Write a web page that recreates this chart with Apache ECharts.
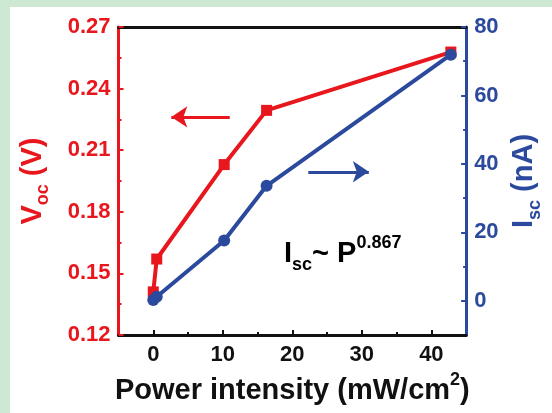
<!DOCTYPE html>
<html>
<head>
<meta charset="utf-8">
<script src="https://cdn.jsdelivr.net/npm/echarts@6/dist/echarts.min.js"></script>
<style>
  html, body { margin: 0; padding: 0; background: #cde8d3; }
  #main { position: absolute; left: 10px; top: 7px; width: 542px; height: 406px; background: #fff; }
</style>
</head>
<body>
<div id="main"></div>
<script>
// power intensity (mW/cm2) of each measurement
var power = [0, 0.5, 10.2, 16.3, 42.8];
// open circuit voltage (V)
var vocValues = [0.141, 0.157, 0.203, 0.2294, 0.2578];
// short circuit current (nA)
var iscValues = [0.2, 1.2, 17.6, 33.6, 71.9];

var xTicks = [0, 10, 20, 30, 40];
var xMinorTicks = [5, 15, 25, 35];
var iscTicks = [0, 20, 40, 60, 80];
var iscMinorTicks = [10, 30, 50, 70];

// arrows pointing to each axis: [from, to]
var vocArrow = [[11.0, 0.2262], [2.6, 0.2262]];
var iscArrow = [[22.3, 37.7], [31.0, 37.7]];

var RED = '#e8161d';
var BLUE = '#2b4a9d';
var FONT = '"Liberation Sans", Arial, sans-serif';

function pairs(xs, ys) {
    return xs.map(function (x, i) { return [x, ys[i]]; });
}

function nameRich(color, size) {
    return {
        a: { fontSize: size, fontWeight: 'bold', fontFamily: FONT, color: color, lineHeight: 40 },
        b: { fontSize: 18, fontWeight: 'bold', fontFamily: FONT, color: color, lineHeight: 18, verticalAlign: 'bottom' },
        s: { fontSize: 18, fontWeight: 'bold', fontFamily: FONT, color: color, lineHeight: 18, verticalAlign: 'top' }
    };
}

var tickFont = { fontSize: 22, fontWeight: 'bold', fontFamily: FONT };

var myChart = echarts.init(document.getElementById('main'));

var option = {
    animation: false,
    backgroundColor: '#fff',
    grid: { left: 103, top: 20, width: 370, height: 308, show: false },
    xAxis: [
        {
            type: 'value', position: 'bottom', min: -5, max: 45,
            name: '{a|Power intensity (mW/cm}{s|2}{a|)}',
            nameLocation: 'middle', nameGap: 26,
            nameTextStyle: { rich: nameRich('#111', 29) },
            axisLine: { show: true, onZero: false, lineStyle: { color: '#111', width: 3 } },
            axisTick: { show: true, inside: true, length: 5, customValues: xTicks, lineStyle: { color: '#111', width: 2 } },
            axisLabel: Object.assign({ customValues: xTicks, margin: 9, color: '#111' }, tickFont),
            splitLine: { show: false }
        },
        {
            type: 'value', position: 'bottom', min: -5, max: 45,
            axisLine: { show: false, onZero: false },
            axisTick: { show: true, inside: true, length: 3, customValues: xMinorTicks, lineStyle: { color: '#111', width: 2 } },
            axisLabel: { show: false },
            splitLine: { show: false }
        },
        {
            type: 'value', position: 'top', min: -5, max: 45,
            axisLine: { show: true, onZero: false, lineStyle: { color: '#111', width: 3 } },
            axisTick: { show: false },
            axisLabel: { show: false },
            splitLine: { show: false }
        }
    ],
    yAxis: [
        {
            type: 'value', position: 'left', min: 0.12, max: 0.27, interval: 0.03,
            name: '{a|V}{b|oc}{a| (V)}',
            nameLocation: 'middle', nameGap: 66,
            nameTextStyle: { rich: nameRich(RED, 29) },
            axisLine: { show: true, onZero: false, lineStyle: { color: RED, width: 3 } },
            axisTick: { show: true, inside: true, length: 5, lineStyle: { color: RED, width: 2 } },
            minorTick: { show: true, splitNumber: 2, length: 3, lineStyle: { color: RED, width: 2 } },
            axisLabel: Object.assign({
                margin: 8, color: RED,
                formatter: function (v) { return v.toFixed(2); }
            }, tickFont),
            splitLine: { show: false }
        },
        {
            type: 'value', position: 'right', min: -10, max: 80,
            name: '{a|I}{b|sc}{a| (nA)}',
            nameLocation: 'middle', nameGap: 36,
            nameTextStyle: { rich: nameRich(BLUE, 29) },
            axisLine: { show: true, onZero: false, lineStyle: { color: BLUE, width: 3 } },
            axisTick: { show: true, inside: true, length: 5, customValues: iscTicks, lineStyle: { color: BLUE, width: 2 } },
            axisLabel: Object.assign({ customValues: iscTicks, margin: 8, color: BLUE }, tickFont),
            splitLine: { show: false }
        },
        {
            type: 'value', position: 'right', min: -10, max: 80,
            axisLine: { show: false, onZero: false },
            axisTick: { show: true, inside: true, length: 3, customValues: iscMinorTicks, lineStyle: { color: BLUE, width: 2 } },
            axisLabel: { show: false },
            splitLine: { show: false }
        }
    ],
    series: [
        {
            name: 'Voc', type: 'line', xAxisIndex: 0, yAxisIndex: 0,
            data: pairs(power, vocValues),
            symbol: 'rect', symbolSize: 11,
            lineStyle: { color: RED, width: 4 },
            itemStyle: { color: RED },
            markLine: {
                silent: true, symbol: ['none', 'arrow'], symbolSize: 16,
                label: { show: false },
                lineStyle: { color: RED, width: 3, type: 'solid' },
                data: [[{ coord: vocArrow[0] }, { coord: vocArrow[1] }]]
            }
        },
        {
            name: 'Isc', type: 'line', xAxisIndex: 0, yAxisIndex: 1,
            data: pairs(power, iscValues),
            symbol: 'circle', symbolSize: 12,
            lineStyle: { color: BLUE, width: 4 },
            itemStyle: { color: BLUE },
            markLine: {
                silent: true, symbol: ['none', 'arrow'], symbolSize: 16,
                label: { show: false },
                lineStyle: { color: BLUE, width: 3, type: 'solid' },
                data: [[{ coord: iscArrow[0] }, { coord: iscArrow[1] }]]
            }
        }
    ],
    graphic: [
        {
            type: 'text', left: 274, top: 227,
            style: {
                text: '{a|I}{b|sc}{a|~ P}{s|0.867}',
                rich: nameRich(BLUE, 29)
            }
        }
    ]
};

myChart.setOption(option);
</script>
</body>
</html>
